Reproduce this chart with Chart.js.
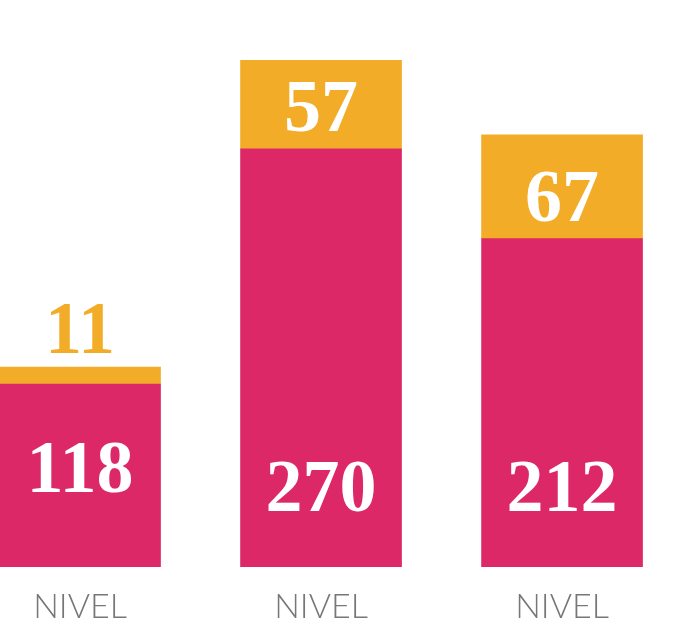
<!DOCTYPE html>
<html>
<head>
<meta charset="utf-8">
<script src="https://cdn.jsdelivr.net/npm/chart.js@4"></script>
<style>
  html, body { margin: 0; padding: 0; background: #ffffff; }
  #wrap { width: 684px; height: 644px; position: relative; }
</style>
</head>
<body>
<div id="wrap"><canvas id="chart"></canvas></div>
<script>
// ============================================================================
// Data
// ============================================================================

const categories = ["NIVEL", "NIVEL", "NIVEL"];
const basePositions = [0, 1, 2];
const pinkValues = [118, 270, 212];
const orangeValues = [11, 57, 67];

const PINK = "#DD2867";
const ORANGE = "#F2AC28";
const LABEL_GRAY = "#777777";
const NUMBER_FONT = "bold 74px 'Liberation Serif', 'DejaVu Serif', serif";

/**
 * Draw value labels on each bar segment
 */
const valueLabelPlugin = {
    id: "valueLabels",
    afterDatasetsDraw(chart) {
        const ctx = chart.ctx;
        ctx.save();
        ctx.font = NUMBER_FONT;
        ctx.textAlign = "center";
        ctx.textBaseline = "alphabetic";

        // Pink segments: numbers sit low in the bar
        chart.getDatasetMeta(0).data.forEach((bar, i) => {
            const h = bar.base - bar.y;
            const lift = Math.max(56, 130 - 0.3 * h);
            ctx.fillStyle = "#ffffff";
            ctx.fillText(String(pinkValues[i]), bar.x, bar.base - lift);
        });

        // Orange segments: inside if roomy, otherwise above
        chart.getDatasetMeta(1).data.forEach((bar, i) => {
            const h = bar.base - bar.y;
            if (h > 60) {
                ctx.fillStyle = "#ffffff";
                ctx.fillText(String(orangeValues[i]), bar.x, bar.base - 18);
            } else {
                ctx.fillStyle = ORANGE;
                ctx.fillText(String(orangeValues[i]), bar.x, bar.y - 14);
            }
        });
        ctx.restore();
    },
};

const toPoints = (values) => values.map((v, i) => ({ x: basePositions[i], y: v }));

new Chart(document.getElementById("chart").getContext("2d"), {
    type: "bar",
    data: {
        datasets: [
            { data: toPoints(pinkValues), backgroundColor: PINK, barThickness: 161 },
            { data: toPoints(orangeValues), backgroundColor: ORANGE, barThickness: 161 },
        ],
    },
    options: {
        responsive: true,
        maintainAspectRatio: false,
        animation: false,
        layout: { padding: 0 },
        plugins: {
            legend: { display: false },
            tooltip: { enabled: false },
        },
        scales: {
            x: {
                type: "linear",
                stacked: true,
                offset: false,
                min: -0.332,
                max: 2.506,
                grid: { display: false, drawTicks: false, offset: false },
                border: { display: false },
                afterBuildTicks: (scale) => {
                    scale.ticks = basePositions.map((v) => ({ value: v }));
                },
                afterFit: (scale) => {
                    scale.height = 77;
                },
                ticks: {
                    padding: 20,
                    color: LABEL_GRAY,
                    font: { family: "Lato, 'Open Sans', sans-serif", size: 34, weight: 300 },
                    callback: (value) => categories[basePositions.indexOf(value)] ?? "",
                },
            },
            y: {
                stacked: true,
                display: false,
                min: 0,
                max: 366,
            },
        },
    },
    plugins: [valueLabelPlugin],
});
</script>
</body>
</html>
